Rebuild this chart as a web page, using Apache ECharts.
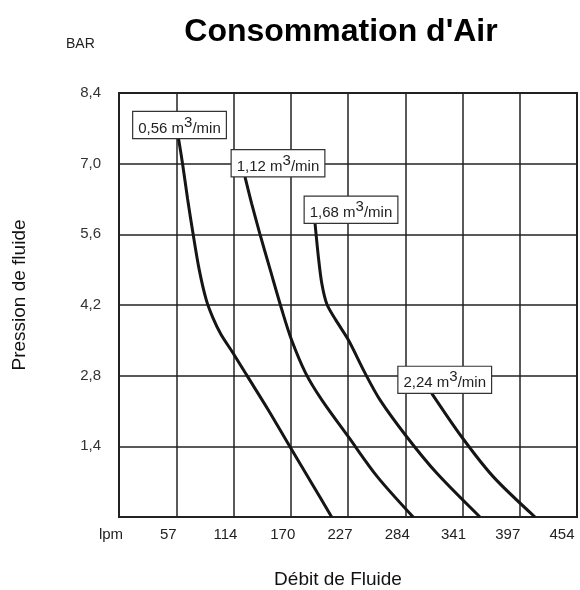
<!DOCTYPE html>
<html>
<head>
<meta charset="utf-8">
<script src="https://cdn.jsdelivr.net/npm/echarts@6/dist/echarts.min.js"></script>
<style>html,body{margin:0;padding:0;background:#fff}#c{width:580px;height:590px}</style>
</head>
<body>
<div id="c"></div>
<script>
// Data (x: lpm, y: bar)
var seriesNames = ['0,56', '1,12', '1,68', '2,24'];
var curve1 = [[59,7.50],[63,7.0],[68,6.3],[73.5,5.6],[79.5,4.9],[86.5,4.3],[93,3.95],[101,3.62],[113.3,3.24],[126.6,2.81],[148.0,2.12],[169.5,1.39],[191.0,0.67],[210.8,0]];
var curve2 = [[124.9,6.74],[131.5,6.21],[139.5,5.62],[150,4.89],[161.5,4.10],[171,3.51],[185,2.85],[201,2.32],[227.3,1.59],[256,0.80],[291.6,0]];
var curve3 = [[194.3,5.82],[197.6,5.16],[201,4.63],[206,4.22],[215,3.90],[227.3,3.51],[243.9,2.85],[258.7,2.32],[285.2,1.59],[314.9,0.87],[357.8,0]];
var curve4 = [[310.0,2.45],[339.6,1.59],[370.9,0.80],[412.4,0]];
var xTickLabels = ['lpm','57','114','170','227','284','341','397','454'];
var yTickLabels = ['','1,4','2,8','4,2','5,6','7,0','8,4'];

var curves = [curve1, curve2, curve3, curve4];
var labelOffsets = [[1,0],[33,0],[36,0],[13,0]];
var xLabelStyle = ['n','n','n','n','n','n','p1','p2','p3'];

var chart = echarts.init(document.getElementById('c'));
var FONT = 'Liberation Sans, Arial, sans-serif';
var series = curves.map(function (c, i) {
  return {
    type: 'line',
    name: seriesNames[i],
    data: c,
    smooth: 0.3,
    showSymbol: false,
    symbol: 'none',
    lineStyle: { color: '#151515', width: 3 },
    z: 3,
    animation: false,
    markPoint: {
      silent: true,
      animation: false,
      symbol: 'rect',
      symbolSize: 1,
      itemStyle: { color: 'rgba(0,0,0,0)' },
      data: [{
        coord: c[0],
        label: {
          show: true,
          position: 'top',
          distance: 0,
          offset: labelOffsets[i],
          formatter: '{a|' + seriesNames[i] + ' m}{s|3}{a|/min}',
          backgroundColor: '#fff',
          borderColor: '#333',
          borderWidth: 1.2,
          padding: [3, 5, 2, 5],
          rich: {
            a: { fontFamily: FONT, fontSize: 15, color: '#222', lineHeight: 21, verticalAlign: 'bottom' },
            s: { fontFamily: FONT, fontSize: 15, color: '#222', lineHeight: 21, verticalAlign: 'top' }
          }
        }
      }]
    }
  };
});

var xRich = {
  n: { fontFamily: FONT, fontSize: 15, color: '#222' },
  p1: { fontFamily: FONT, fontSize: 15, color: '#222', padding: [0, 2, 0, 0] },
  p2: { fontFamily: FONT, fontSize: 15, color: '#222', padding: [0, 8, 0, 0] },
  p3: { fontFamily: FONT, fontSize: 15, color: '#222', padding: [0, 14, 0, 0] }
};

chart.setOption({
  animation: false,
  backgroundColor: '#fff',
  title: {
    text: "Consommation d'Air",
    left: 336, top: 11, textAlign: 'center',
    textStyle: { fontFamily: FONT, fontSize: 32, fontWeight: 'bold', color: '#000' }
  },
  graphic: [
    { type: 'text', left: 66, top: 37, style: { text: 'BAR', fontFamily: FONT, fontSize: 14, fill: '#222' } }
  ],
  grid: { left: 119, right: 3, top: 93, bottom: 73, containLabel: false, outerBoundsMode: 'none', show: true, borderColor: '#222', borderWidth: 2, backgroundColor: 'transparent' },
  xAxis: {
    type: 'value', min: 0, max: 454, interval: 56.75,
    name: 'Débit de Fluide', nameLocation: 'middle', nameGap: 53,
    nameTextStyle: { fontFamily: FONT, fontSize: 19, color: '#111', padding: [0, 20, 0, 0] },
    axisLine: { show: true, lineStyle: { color: '#222', width: 2 } },
    axisTick: { show: false },
    splitLine: { show: true, lineStyle: { color: '#222', width: 1.5 } },
    axisLabel: {
      fontFamily: FONT, fontSize: 15, color: '#222', margin: 10, padding: [0, 16, 0, 0],
      showMinLabel: true, showMaxLabel: true, hideOverlap: false,
      rich: xRich,
      formatter: function (v) {
        var k = Math.round(v / 56.75);
        return '{' + xLabelStyle[k] + '|' + xTickLabels[k] + '}';
      }
    }
  },
  yAxis: {
    type: 'value', min: 0, max: 8.4, interval: 1.4,
    name: 'Pression de fluide', nameLocation: 'middle', nameGap: 90, nameRotate: 90,
    nameTextStyle: { fontFamily: FONT, fontSize: 19, color: '#111', padding: [0, 0, 0, 20] },
    axisLine: { show: true, lineStyle: { color: '#222', width: 2 } },
    axisTick: { show: false },
    splitLine: { show: true, lineStyle: { color: '#222', width: 1.5 } },
    axisLabel: {
      fontFamily: FONT, fontSize: 15, color: '#333', margin: 18,
      formatter: function (v) { return yTickLabels[Math.round(v / 1.4)]; }
    }
  },
  series: series
});
</script>
</body>
</html>
